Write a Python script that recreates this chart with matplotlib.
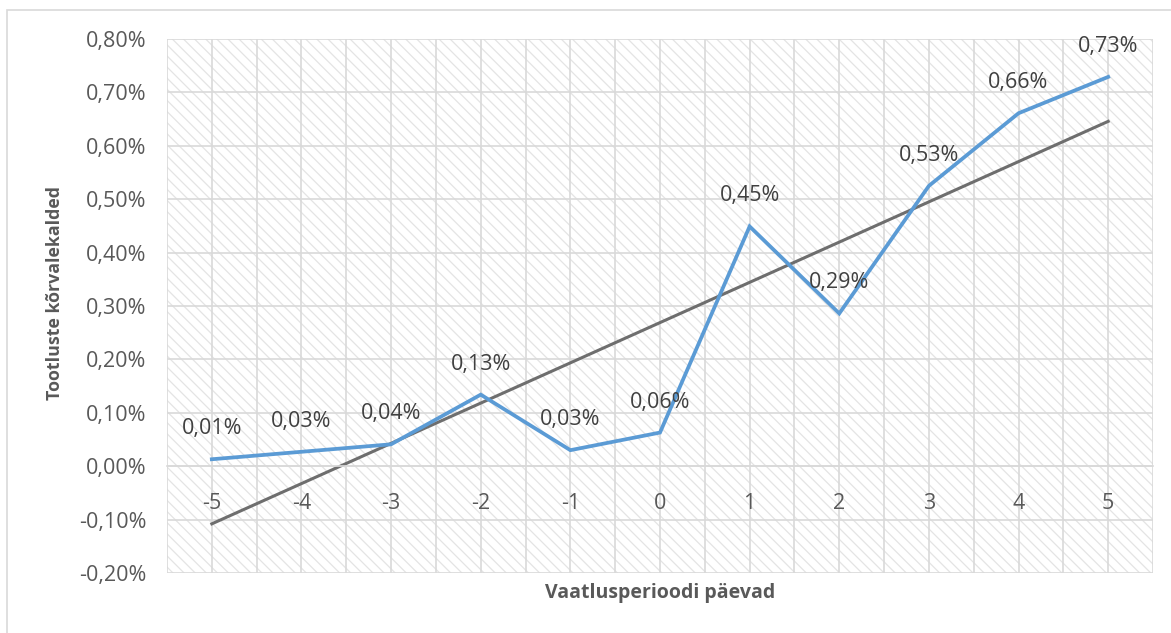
import numpy as np
import matplotlib
matplotlib.use("Agg")
import matplotlib.pyplot as plt
from matplotlib.patches import Rectangle
from matplotlib.ticker import FuncFormatter

# =============== Settings ===============
OUTPUT_PNG = "out.png"
FIG_W_PX, FIG_H_PX = 1171, 633
DPI = 100

LINE_COLOR   = "#5B9BD5"
TREND_COLOR  = "#6E6E6E"
GRID_COLOR   = "#D9D9D9"
HATCH_COLOR  = "#E4E4E4"
TEXT_COLOR   = "#595959"
LABEL_COLOR  = "#404040"
FONT         = "Open Sans"
TICK_SIZE    = 15.5

# =============== Data ===============
days = [-5, -4, -3, -2, -1, 0, 1, 2, 3, 4, 5]
abnormal_returns = [0.013, 0.027, 0.041, 0.134, 0.030, 0.063, 0.449, 0.286, 0.525, 0.661, 0.729]  # in %
x_title = "Vaatlusperioodi päevad"
y_title = "Tootluste kõrvalekalded"
y_ticks = [-0.2, -0.1, 0.0, 0.1, 0.2, 0.3, 0.4, 0.5, 0.6, 0.7, 0.8]

plt.rcParams["font.family"] = [FONT, "DejaVu Sans"]
plt.rcParams["hatch.linewidth"] = 0.9
plt.rcParams["axes.unicode_minus"] = False   # plain hyphen like Excel


def pct_comma(v, pos=None, decimals=2):
    """0.13 -> '0,13%' (Estonian decimal comma)."""
    return f"{v:.{decimals}f}%".replace(".", ",")


# =============== Figure ===============
fig = plt.figure(figsize=(FIG_W_PX / DPI, FIG_H_PX / DPI), dpi=DPI)

# outer chart border (only left/top visible inside the picture)
fig.patches.append(Rectangle((7 / FIG_W_PX, -0.1), 1.2, 1.1 - 10 / FIG_H_PX,
                             transform=fig.transFigure, fill=False,
                             edgecolor=GRID_COLOR, linewidth=1.2))

left, right = 167 / FIG_W_PX, 1153 / FIG_W_PX
top, bottom = 1 - 39 / FIG_H_PX, 1 - 573 / FIG_H_PX
ax = fig.add_axes([left, bottom, right - left, top - bottom])

# hatched plot area
ax.add_patch(Rectangle((0, 0), 1, 1, transform=ax.transAxes, facecolor="white",
                       edgecolor=HATCH_COLOR, hatch="\\\\\\", linewidth=0, zorder=0.1))

ax.set_xlim(-5.5, 5.5)
ax.set_ylim(-0.2, 0.8)
ax.set_axisbelow(True)

# gridlines: horizontal every 0.1%, vertical every half day
ax.set_yticks(y_ticks)
ax.set_xticks(days)
ax.set_xticks(np.arange(-5.5, 5.51, 1.0), minor=True)
ax.grid(True, axis="y", which="major", color=GRID_COLOR, linewidth=1.2)
ax.grid(True, axis="x", which="both", color=GRID_COLOR, linewidth=1.2)

for side in ["top", "right", "left"]:
    ax.spines[side].set_visible(False)
# category labels sit just below the zero line
ax.spines["bottom"].set_position(("data", 0))
ax.spines["bottom"].set_color(GRID_COLOR)
ax.spines["bottom"].set_linewidth(1.2)

ax.yaxis.set_major_formatter(FuncFormatter(pct_comma))
ax.tick_params(axis="y", length=0, pad=15, labelsize=TICK_SIZE, labelcolor=TEXT_COLOR)
ax.tick_params(axis="x", which="major", length=0, pad=19, labelsize=TICK_SIZE, labelcolor=TEXT_COLOR)
ax.tick_params(axis="x", which="minor", length=0)

# series + linear trend
ax.plot(days, abnormal_returns, color=LINE_COLOR, linewidth=2.7, zorder=3,
        solid_joinstyle="miter")
slope, intercept = np.polyfit(days, abnormal_returns, 1)
trend = [slope * d + intercept for d in days]
ax.plot(days, trend, color=TREND_COLOR, linewidth=2.2, zorder=2.5)

# data labels above the points
for d, v in zip(days, abnormal_returns):
    ax.annotate(pct_comma(v), (d, v), xytext=(0, 22), textcoords="offset points",
                ha="center", va="center", fontsize=TICK_SIZE, color=LABEL_COLOR, zorder=4)

# axis titles
fig.text(55 / FIG_W_PX, 1 - 293 / FIG_H_PX, y_title, rotation=90, ha="center", va="center",
         fontsize=12.8, fontweight="bold", color=TEXT_COLOR)
fig.text(660 / FIG_W_PX, 1 - 593 / FIG_H_PX, x_title, ha="center", va="center",
         fontsize=14, fontweight="bold", color=TEXT_COLOR)

fig.savefig(OUTPUT_PNG, dpi=DPI)
plt.close(fig)
